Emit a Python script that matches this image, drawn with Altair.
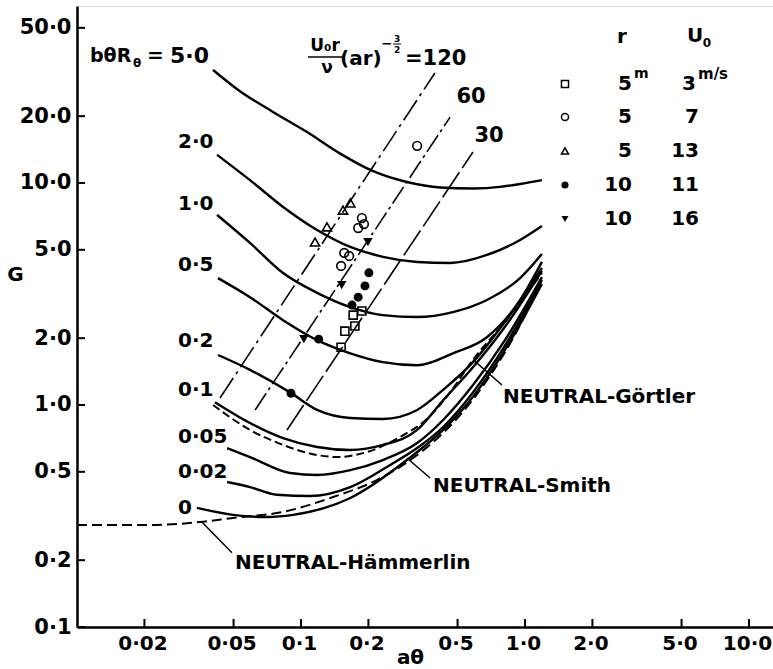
import altair as alt
import pandas as pd

FONT = "DejaVu Sans"

# ---------------- axis ticks ----------------
X_TICKS = [0.02, 0.05, 0.1, 0.2, 0.5, 1.0, 2.0, 5.0, 10.0]
X_LABELS = ["0·02", "0·05", "0·1", "0·2", "0·5", "1·0", "2·0", "5·0", "10·0"]
Y_TICKS = [0.1, 0.2, 0.5, 1.0, 2.0, 5.0, 10.0, 20.0, 50.0]
Y_LABELS = ["0·1", "0·2", "0·5", "1·0", "2·0", "5·0", "10·0", "20·0", "50·0"]

# ---------------- curves of constant bθRθ (aθ, G) ----------------
B50_A = [0.0405, 0.0534, 0.075, 0.106, 0.149, 0.210, 0.297, 0.418, 0.586, 0.773, 0.951, 1.19]
B50_G = [32.3, 25.9, 20.9, 17.0, 13.6, 11.3, 10.1, 9.55, 9.45, 9.6, 9.9, 10.3]
B20_A = [0.0422, 0.0592, 0.0832, 0.118, 0.166, 0.232, 0.330, 0.463, 0.676, 0.951, 1.19]
B20_G = [13.4, 10.3, 7.80, 6.14, 5.15, 4.65, 4.41, 4.36, 4.74, 5.54, 6.40]
B10_A = [0.0422, 0.0592, 0.0832, 0.118, 0.166, 0.232, 0.330, 0.477, 0.676, 0.951, 1.19]
B10_G = [7.18, 5.37, 3.93, 3.20, 2.76, 2.54, 2.49, 2.62, 2.97, 3.73, 4.79]
B05_A = [0.0426, 0.0592, 0.0832, 0.118, 0.166, 0.232, 0.330, 0.477, 0.676, 0.951, 1.19]
B05_G = [3.73, 3.06, 2.41, 1.96, 1.71, 1.56, 1.51, 1.71, 2.02, 2.97, 4.41]
B02_A = [0.0426, 0.0592, 0.0893, 0.118, 0.166, 0.232, 0.330, 0.431, 0.586, 0.814, 1.19]
B02_G = [1.68, 1.44, 1.14, 0.950, 0.874, 0.865, 0.950, 1.17, 1.56, 2.37, 4.14]
B01_A = [0.0413, 0.0592, 0.0832, 0.118, 0.166, 0.232, 0.330, 0.431, 0.586, 0.814, 1.19]
B01_G = [1.03, 0.830, 0.710, 0.647, 0.627, 0.661, 0.772, 1.05, 1.48, 2.25, 4.02]
B005_A = [0.0468, 0.0592, 0.0893, 0.118, 0.166, 0.232, 0.330, 0.431, 0.586, 0.814, 1.19]
B005_G = [0.640, 0.583, 0.494, 0.484, 0.509, 0.565, 0.674, 0.856, 1.23, 1.96, 3.77]
B002_A = [0.0468, 0.0592, 0.0782, 0.110, 0.166, 0.250, 0.330, 0.431, 0.586, 0.814, 1.19]
B002_G = [0.450, 0.427, 0.394, 0.389, 0.427, 0.537, 0.640, 0.796, 1.14, 1.85, 3.66]
B0_A = [0.0343, 0.0497, 0.0705, 0.0921, 0.166, 0.297, 0.431, 0.586, 0.814, 1.19]
B0_G = [0.344, 0.320, 0.313, 0.320, 0.381, 0.565, 0.772, 1.09, 1.77, 3.51]

# neutral curves (dashed)
GORT_A = [0.0405, 0.0592, 0.0832, 0.118, 0.145, 0.197, 0.277, 0.365, 0.463, 0.586, 0.814, 1.19]
GORT_G = [1.00, 0.772, 0.661, 0.595, 0.583, 0.614, 0.718, 0.865, 1.14, 1.60, 2.37, 3.93]
HAMM_A = [0.0100, 0.0212, 0.0354, 0.0497, 0.0832, 0.139, 0.218, 0.330, 0.431, 0.586, 0.814, 1.19]
HAMM_G = [0.288, 0.288, 0.297, 0.310, 0.330, 0.385, 0.459, 0.595, 0.748, 1.06, 1.73, 3.58]

# lines of constant U0 r/ν (ar)^-3/2
L120_A = [0.0435, 0.396]
L120_G = [1.075, 31.3]
L60_A = [0.0624, 0.463]
L60_G = [0.950, 19.8]
L30_A = [0.0866, 0.586]
L30_G = [0.772, 13.8]

# leader lines for the neutral-curve labels
GORT_LEAD_A = [0.586, 0.789]
GORT_LEAD_G = [1.60, 1.23]
SMITH_LEAD_A = [0.297, 0.377]
SMITH_LEAD_G = [0.577, 0.469]
HAMM_LEAD_A = [0.0361, 0.0492]
HAMM_LEAD_G = [0.297, 0.216]

# measurements
SQ_A = [0.187, 0.171, 0.174, 0.157, 0.151]             # r=5 m, U0=3 m/s
SQ_G = [2.65, 2.54, 2.27, 2.15, 1.82]
OC_A = [0.330, 0.187, 0.191, 0.180, 0.156, 0.164, 0.151]  # r=5, U0=7
OC_G = [14.7, 6.95, 6.53, 6.27, 4.84, 4.69, 4.23]
OT_A = [0.1155, 0.1306, 0.154, 0.166]                   # r=5, U0=13
OT_G = [5.42, 6.34, 7.55, 8.13]
FC_A = [0.201, 0.193, 0.180, 0.169, 0.120, 0.0902]      # r=10, U0=11
FC_G = [3.94, 3.44, 3.06, 2.82, 1.98, 1.13]
FT_A = [0.199, 0.152, 0.103]                            # r=10, U0=16
FT_G = [5.42, 3.47, 1.98]

LEG_R = ["5", "5", "5", "10", "10"]
LEG_U = ["3", "7", "13", "11", "16"]
LEG_SHAPE = ["square", "circle", "triangle-up", "circle", "triangle-down"]
LEG_FILLED = [False, False, False, True, True]

# ---------------- layout ----------------
LEFT, TOP, W, H = 77, 6, 696, 621


def px(x):
    return x - LEFT


def py(y):
    return y - TOP


def lab_expr(vals, labels):
    e = "''"
    for v, l in reversed(list(zip(vals, labels))):
        e = f"datum.value == {v} ? '{l}' : ({e})"
    return e


xs = alt.Scale(type="log", domain=[0.01, 12.8], nice=False)
ys = alt.Scale(type="log", domain=[0.1, 62.7], nice=False)
xax = alt.Axis(values=X_TICKS, labelExpr=lab_expr(X_TICKS, X_LABELS), grid=False,
               ticks=False, tickSize=0, domainColor="black", domainWidth=2.5,
               labelFont=FONT, labelFontSize=20, labelFontWeight="bold", labelColor="black",
               labelPadding=6, labelFlush=False, labelOverlap=False, labelOffset=-2,
               title="aθ", titleFont=FONT, titleFontSize=20, titleFontWeight="bold",
               titleColor="black", titleX=333, titleY=36, titleAlign="center",
               titleBaseline="alphabetic")
yax = alt.Axis(values=Y_TICKS, labelExpr=lab_expr(Y_TICKS, Y_LABELS), grid=False,
               ticks=False, tickSize=0, domainColor="black", domainWidth=2.5,
               labelFont=FONT, labelFontSize=21, labelFontWeight="bold", labelColor="black",
               labelPadding=6, labelFlush=False, labelOverlap=False,
               title="G", titleFont=FONT, titleFontSize=20, titleFontWeight="bold",
               titleColor="black", titleAngle=0, titleX=-62, titleY=268,
               titleAlign="center", titleBaseline="middle")
X = alt.X("a:Q", scale=xs, axis=xax)
Y = alt.Y("G:Q", scale=ys, axis=yax)


def df(A, G, name="c"):
    return pd.DataFrame({"a": A, "G": G, "curve": name})


solid = pd.concat([
    df(B50_A, B50_G, "5.0"), df(B20_A, B20_G, "2.0"), df(B10_A, B10_G, "1.0"),
    df(B05_A, B05_G, "0.5"), df(B02_A, B02_G, "0.2"), df(B01_A, B01_G, "0.1"),
    df(B005_A, B005_G, "0.05"), df(B002_A, B002_G, "0.02"), df(B0_A, B0_G, "0"),
])

layers = []
layers.append(alt.Chart(solid).mark_line(color="black", strokeWidth=2.4, interpolate="monotone")
              .encode(x=X, y=Y, detail="curve:N"))
layers.append(alt.Chart(df(GORT_A, GORT_G)).mark_line(color="black", strokeWidth=2.0,
              interpolate="monotone", strokeDash=[8, 4]).encode(x=X, y=Y))
layers.append(alt.Chart(df(HAMM_A, HAMM_G)).mark_line(color="black", strokeWidth=2.0,
              interpolate="monotone", strokeDash=[10, 5]).encode(x=X, y=Y))
for A, G, dash in [(L120_A, L120_G, [24, 5, 3, 5]), (L60_A, L60_G, [20, 4, 3, 4]),
                   (L30_A, L30_G, [30, 5])]:
    layers.append(alt.Chart(df(A, G)).mark_line(color="black", strokeWidth=1.6, strokeDash=dash)
                  .encode(x=X, y=Y))
leads = pd.concat([df(GORT_LEAD_A, GORT_LEAD_G, "g"), df(SMITH_LEAD_A, SMITH_LEAD_G, "s"),
                   df(HAMM_LEAD_A, HAMM_LEAD_G, "h")])
layers.append(alt.Chart(leads).mark_line(color="black", strokeWidth=1.5)
              .encode(x=X, y=Y, detail="curve:N"))

# markers
for A, G, shape, filled, size in [(SQ_A, SQ_G, "square", False, 65), (OC_A, OC_G, "circle", False, 75),
                                  (OT_A, OT_G, "triangle-up", False, 85),
                                  (FC_A, FC_G, "circle", True, 80),
                                  (FT_A, FT_G, "triangle-down", True, 90)]:
    layers.append(alt.Chart(df(A, G)).mark_point(shape=shape, filled=filled, size=size,
                  color="black", strokeWidth=1.6, opacity=1).encode(x=X, y=Y))

# inward tick marks
layers.append(alt.Chart(pd.DataFrame({"a": X_TICKS})).mark_rule(color="black", strokeWidth=2)
              .encode(x=X, y=alt.value(H), y2=alt.value(H - 8)))
layers.append(alt.Chart(pd.DataFrame({"G": Y_TICKS})).mark_rule(color="black", strokeWidth=2)
              .encode(y=Y, x=alt.value(0), x2=alt.value(8)))

one = pd.DataFrame({"k": [0]})


def txt(s, x, y, size=20, align="left", baseline="middle"):
    return alt.Chart(one).mark_text(text=s, align=align, baseline=baseline, font=FONT,
                                    fontSize=size, fontWeight="bold", color="black").encode(
        x=alt.value(px(x)), y=alt.value(py(y)))


def hbar(x1, x2, y, w=1.5):
    return alt.Chart(one).mark_rule(color="black", strokeWidth=w).encode(
        x=alt.value(px(x1)), x2=alt.value(px(x2)), y=alt.value(py(y)))


# curve labels
layers += [
    txt("bθR", 90, 56, 19), txt("θ", 133, 63, 12), txt("=", 147, 56, 20), txt("5·0", 170, 56, 22),
    txt("2·0", 178, 142), txt("1·0", 178, 204), txt("0·5", 178, 265), txt("0·2", 178, 341),
    txt("0·1", 178, 390), txt("0·05", 178, 437), txt("0·02", 178, 472), txt("0", 178, 508),
    # formula label
    txt("U₀r", 325, 46, 17, align="center"), hbar(308, 342, 57), txt("ν", 327, 68, 17, align="center"),
    txt("(ar)", 340, 59, 20), txt("−", 387, 44, 13, align="center"),
    txt("3", 397, 39, 9, align="center"), hbar(393, 401, 44, 1), txt("2", 397, 50, 9, align="center"),
    txt("=120", 405, 59, 21), txt("60", 471, 97, 21, align="center"),
    txt("30", 489, 136, 21, align="center"),
    txt("NEUTRAL-Görtler", 503, 397), txt("NEUTRAL-Smith", 433, 486),
    txt("NEUTRAL-Hämmerlin", 235, 563),
]

# legend table
LEG_Y = [84, 117, 151, 185, 219]
layers += [txt("r", 622, 37, 20, align="center"), txt("U", 695, 36, 20, align="center"),
           txt("0", 707, 43, 12, align="center")]
for i, yy in enumerate(LEG_Y):
    layers.append(alt.Chart(one).mark_point(shape=LEG_SHAPE[i], filled=LEG_FILLED[i], size=50,
                  color="black", strokeWidth=1.5, opacity=1).encode(
        x=alt.value(px(565)), y=alt.value(py(yy))))
    layers.append(txt(LEG_R[i], 632, yy, 20, align="right"))
    layers.append(txt(LEG_U[i], 699 if i else 696, yy, 20, align="right"))
layers += [txt("m", 634, LEG_Y[0] - 10, 14), txt("m/s", 698, LEG_Y[0] - 10, 15)]

chart = alt.layer(*layers).properties(
    width=W, height=H,
    padding={"left": LEFT, "top": TOP, "right": 0, "bottom": 669 - TOP - H},
    autosize=alt.AutoSizeParams(type="none"),
).configure_view(stroke=None).configure(background="white")

chart.save("out.html", embed_options={"renderer": "svg", "actions": False})
